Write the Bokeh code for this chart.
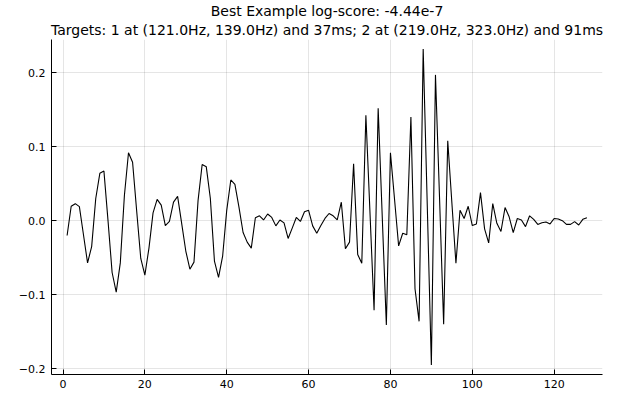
from bokeh.plotting import figure
from bokeh.models import Range1d, FixedTicker, Title
from bokeh.embed import file_html
from bokeh.resources import INLINE

title_line1 = "Best Example log-score: -4.44e-7"
title_line2 = "Targets: 1 at (121.0Hz, 139.0Hz) and 37ms; 2 at (219.0Hz, 323.0Hz) and 91ms"

signal = [
    -0.020, 0.0195, 0.023, 0.019, -0.019, -0.057, -0.035, 0.030, 0.064, 0.067,
    0.000, -0.070, -0.0966, -0.057, 0.034, 0.0917, 0.079, 0.013, -0.051, -0.0735,
    -0.037, 0.0106, 0.0288, 0.021, -0.0066, -0.001, 0.025, 0.0328, -0.004, -0.041,
    -0.0656, -0.056, 0.0275, 0.076, 0.073, 0.030, -0.0545, -0.0766, -0.048, 0.014,
    0.055, 0.049, 0.018, -0.016, -0.029, -0.037, 0.004, 0.0066, 0.001, 0.009,
    0.0044, -0.007, 0.001, -0.003, -0.024, -0.010, 0.0044, -0.001, 0.012, 0.014,
    -0.007, -0.017, -0.0066, 0.003, 0.0097, 0.0066, 0.001, 0.025, -0.038, -0.029,
    0.077, -0.0456, -0.0576, 0.1426, 0.011, -0.121, 0.152, 0.005, -0.141, 0.0917,
    0.029, -0.034, -0.017, -0.019, 0.140, -0.092, -0.136, 0.232, 0.020, -0.195,
    0.197, 0.030, -0.140, 0.108, 0.025, -0.0576, 0.014, 0.003, 0.0195, -0.0066,
    -0.0044, 0.038, -0.011, -0.030, 0.023, -0.0035, -0.0146, 0.0177, 0.0053, -0.016,
    0.003, 0.001, -0.008, 0.0066, 0.0018, -0.005, -0.0027, -0.0018, -0.0044, 0.003,
    0.0022, 0.000, -0.005, -0.005, -0.0013, -0.0058, 0.0018, 0.004,
]
sample_index = list(range(1, len(signal) + 1))

x_ticks = [0, 20, 40, 60, 80, 100, 120]
y_ticks = [-0.2, -0.1, 0.0, 0.1, 0.2]
y_tick_labels = ["\u22120.2", "\u22120.1", "0.0", "0.1", "0.2"]

xmin, xmax = min(sample_index), max(sample_index)
ymin, ymax = min(signal), max(signal)
xpad = 0.03 * (xmax - xmin)
ypad = 0.03 * (ymax - ymin)

p = figure(
    width=611, height=390,
    output_backend="svg", toolbar_location=None,
    x_range=Range1d(xmin - xpad, xmax + xpad),
    y_range=Range1d(ymin - ypad, ymax + ypad),
    min_border_left=51, min_border_right=9, min_border_top=2, min_border_bottom=0,
)

def style_title(t):
    t.align = "center"
    t.text_font = "DejaVu Sans"
    t.text_font_size = "14px"
    t.text_font_style = "normal"
    t.text_color = "#000000"
    t.standoff = 0
    t.offset = 0

p.title.text = title_line1
style_title(p.title)
sub_title = Title(text=title_line2)
style_title(sub_title)
sub_title.standoff = 3
p.add_layout(sub_title, "above")

p.line(sample_index, signal, line_color="black", line_width=1.1)

p.outline_line_color = None
p.background_fill_color = "white"
p.border_fill_color = "white"

for ax in (p.xaxis[0], p.yaxis[0]):
    ax.axis_line_color = "black"
    ax.axis_line_width = 1
    ax.major_tick_in = 5
    ax.major_tick_out = 0
    ax.minor_tick_line_color = None
    ax.major_tick_line_color = "black"
    ax.major_label_text_font = "DejaVu Sans"
    ax.major_label_text_font_size = "11px"
    ax.major_label_text_color = "#000000"

p.xaxis[0].major_label_standoff = 5
p.yaxis[0].major_label_standoff = 6
p.xaxis[0].ticker = FixedTicker(ticks=x_ticks)
p.yaxis[0].ticker = FixedTicker(ticks=y_ticks)
p.yaxis[0].major_label_overrides = {t: s for t, s in zip(y_ticks, y_tick_labels)}

for g in (p.xgrid[0], p.ygrid[0]):
    g.grid_line_color = "#000000"
    g.grid_line_alpha = 0.1
    g.grid_line_width = 1

open("out.html", "w").write(file_html(p, INLINE))
